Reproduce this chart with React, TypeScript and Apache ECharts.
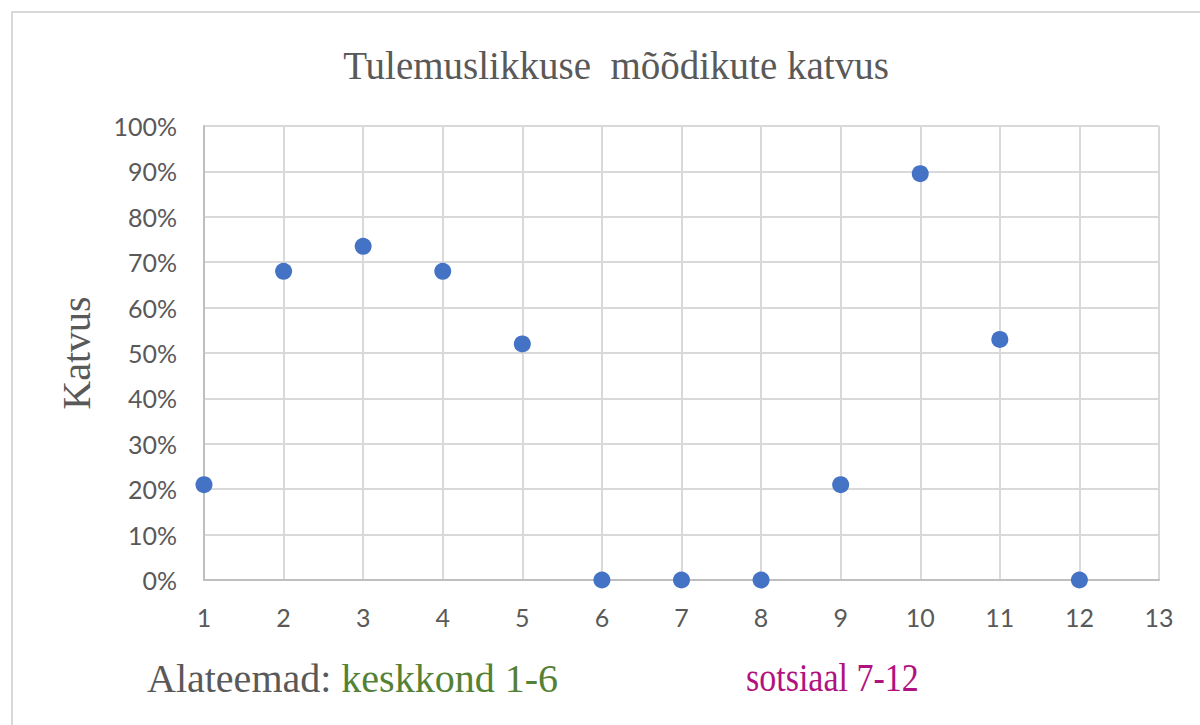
import React, { useEffect, useRef } from "react";
import * as echarts from "echarts";

const TITLE = "Tulemuslikkuse  mõõdikute katvus";
const Y_NAME = "Katvus";
const X_VALUES = [1, 2, 3, 4, 5, 6, 7, 8, 9, 10, 11, 12];
const COVERAGE = [0.21, 0.68, 0.735, 0.68, 0.52, 0, 0, 0, 0.21, 0.895, 0.53, 0];
const FOOT_LABEL = "Alateemad: ";
const FOOT_GREEN = "keskkond 1-6";
const FOOT_PINK = "sotsiaal 7-12";

export default function App() {
  const ref = useRef<HTMLDivElement>(null);
  useEffect(() => {
    if (!ref.current) return;
    const chart = echarts.init(ref.current, null, { renderer: "svg" });
    const serif = "'Liberation Serif', 'Times New Roman', serif";
    const sans = "Lato, 'Open Sans', sans-serif";
    chart.setOption({
      animation: false,
      backgroundColor: "#ffffff",
      title: {
        text: TITLE,
        left: 611,
        top: 41,
        textAlign: "center",
        textStyle: { fontFamily: serif, fontSize: 39, fontWeight: "normal", color: "#595959" },
      },
      grid: { left: 204, right: 41, top: 126, bottom: 145 },
      xAxis: {
        type: "value",
        min: 1,
        max: 13,
        interval: 1,
        axisLine: { show: true, onZero: false, lineStyle: { color: "#bfbfbf", width: 2 } },
        axisTick: { show: false },
        splitLine: { show: true, lineStyle: { color: "#d9d9d9", width: 2 } },
        axisLabel: { fontFamily: sans, fontSize: 25, color: "#595959", margin: 24, showMinLabel: true, showMaxLabel: true },
      },
      yAxis: {
        type: "value",
        min: 0,
        max: 1,
        interval: 0.1,
        name: Y_NAME,
        nameLocation: "middle",
        nameRotate: 90,
        nameGap: 108,
        nameTextStyle: { fontFamily: serif, fontSize: 40, color: "#595959" },
        axisLine: { show: true, lineStyle: { color: "#bfbfbf", width: 2 } },
        axisTick: { show: false },
        splitLine: { show: true, lineStyle: { color: "#d9d9d9", width: 2 } },
        axisLabel: {
          fontFamily: sans,
          fontSize: 25,
          color: "#595959",
          margin: 27,
          formatter: (v: number) => Math.round(v * 100) + "%",
        },
      },
      series: [
        {
          type: "scatter",
          symbol: "circle",
          symbolSize: 17,
          itemStyle: { color: "#4472c4", opacity: 1 },
          data: X_VALUES.map((x, i) => [x, COVERAGE[i]]),
          z: 5,
        },
      ],
      graphic: [
        {
          type: "rect",
          shape: { x: 12, y: 12, width: 1300, height: 800 },
          style: { fill: "none", stroke: "#d9d9d9", lineWidth: 2 },
          silent: true,
          z: 100,
        },
        {
          type: "text",
          x: 147,
          y: 678,
          style: {
            text: "{a|" + FOOT_LABEL + "}{g|" + FOOT_GREEN + "}",
            verticalAlign: "middle",
            rich: {
              a: { fontFamily: serif, fontSize: 40, fill: "#595959" },
              g: { fontFamily: serif, fontSize: 40, fill: "#538135" },
            },
          },
        },
        {
          type: "text",
          x: 746,
          y: 678,
          scaleX: 0.85,
          style: {
            text: FOOT_PINK,
            verticalAlign: "middle",
            fontFamily: serif,
            fontSize: 40,
            fill: "#b0137f",
          },
        },
      ],
    });
    return () => chart.dispose();
  }, []);
  return (
    <div
      ref={ref}
      style={{ position: "fixed", left: 0, top: 0, width: 1200, height: 725, background: "#fff" }}
    />
  );
}
